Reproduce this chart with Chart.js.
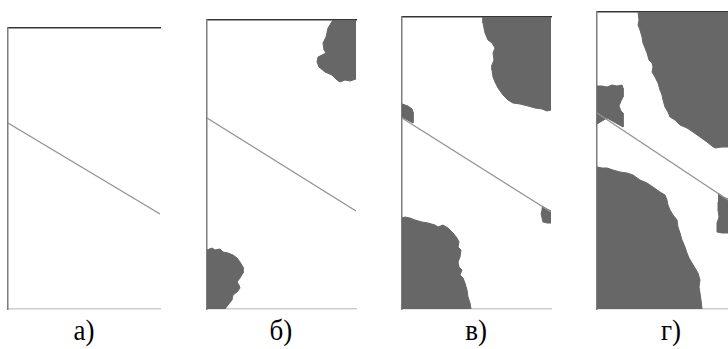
<!DOCTYPE html>
<html>
<head>
<meta charset="utf-8">
<script src="https://cdn.jsdelivr.net/npm/chart.js@4.4.1/dist/chart.umd.min.js"></script>
<style>
  html, body { margin: 0; padding: 0; background: #fff; }
  body { width: 728px; height: 349px; position: relative; overflow: hidden; }
  canvas { position: absolute; }
  .lbl {
    position: absolute; width: 100px; text-align: center;
    font-family: "Liberation Serif", "Times New Roman", serif;
    font-size: 30px; line-height: 34px; color: #000; top: 313px;
    transform: scaleX(0.9);
  }
</style>
</head>
<body>
<canvas id="chartA"></canvas>
<canvas id="chartB"></canvas>
<canvas id="chartC"></canvas>
<canvas id="chartD"></canvas>
<div id="labels"></div>
<script>
// подписи панелей
const panelLabels = ["а)", "б)", "в)", "г)"];

// размеры областей (в условных единицах = пикселях панели)
const extentA = [152, 281];
const extentB = [149, 289];
const extentC = [149, 292];
const extentD = [131, 297];

// наклонная линия на каждой панели
const lineA = [[0, 95], [152, 186]];
const lineB = [[0, 98], [149, 191]];
const lineC = [[0, 101], [149, 195]];
const lineD = [[0, 101], [131, 188]];

// панель б
const blobB1 = [[126, 0], [121, 8], [119, 17], [116, 23], [117, 30], [119, 33], [111, 37], [110, 42],
  [112, 47], [118, 52], [125, 55], [130, 60], [133, 62], [138, 60], [143, 61], [149, 59], [149, 0]];
const blobB2 = [[0, 230], [5, 228], [8, 230], [13, 229], [16, 232], [21, 233], [26, 235], [30, 238],
  [33, 242], [36, 247], [36, 253], [33, 258], [30, 262], [32, 265], [33, 268], [30, 272], [26, 275],
  [25, 280], [21, 285], [18, 289], [0, 289]];

// панель в
const blobC1 = [[81, 0], [81, 6], [83, 16], [86, 23], [90, 26], [93, 31], [91, 36], [92, 43], [90, 48],
  [90, 53], [91, 60], [93, 65], [96, 71], [101, 78], [106, 83], [111, 86], [118, 87], [126, 89],
  [133, 91], [140, 92], [145, 94], [149, 93], [149, 0]];
const blobC2 = [[0, 87], [6, 89], [10, 92], [11, 95], [11, 106], [0, 100]];
const blobC3 = [[140, 189], [145, 192], [149, 194], [149, 206], [145, 206], [141, 205], [140, 201], [139, 196]];
const blobC4 = [[0, 201], [3, 200], [8, 201], [13, 203], [20, 205], [26, 206], [33, 208], [36, 210],
  [41, 208], [46, 211], [51, 216], [55, 221], [57, 225], [56, 230], [59, 233], [58, 240], [56, 245],
  [57, 250], [60, 253], [58, 258], [61, 261], [63, 266], [65, 273], [66, 280], [68, 286], [69, 292], [0, 292]];

// панель г
const blobD1 = [[41, 0], [42, 8], [41, 13], [43, 18], [45, 25], [46, 31], [50, 41], [52, 48], [55, 51],
  [56, 55], [55, 60], [58, 65], [61, 71], [63, 78], [65, 83], [66, 88], [68, 95], [71, 100], [73, 105],
  [78, 108], [83, 113], [90, 116], [96, 120], [103, 125], [110, 130], [115, 134], [118, 136], [125, 135],
  [131, 135], [131, 0]];
const blobD2 = [[0, 74], [5, 74], [10, 75], [15, 73], [20, 74], [25, 73], [26, 76], [26, 85], [24, 89],
  [22, 94], [24, 99], [26, 101], [26, 115], [10, 106], [5, 109], [0, 112]];
const blobD3 = [[121, 181], [126, 185], [131, 187], [131, 221], [125, 221], [120, 220], [120, 211],
  [122, 205], [121, 198], [121, 190]];
const blobD4 = [[0, 155], [5, 156], [10, 156], [16, 158], [23, 160], [30, 161], [36, 163], [43, 168],
  [50, 171], [56, 175], [63, 180], [68, 183], [70, 188], [71, 193], [73, 198], [76, 203], [80, 208],
  [81, 215], [83, 221], [85, 228], [88, 235], [90, 241], [92, 246], [95, 251], [98, 256], [101, 261],
  [103, 268], [102, 275], [103, 281], [104, 288], [105, 297], [0, 297]];

const blobColor = "#676767";
const lineColor = "#949494";
const PAD = 3;

function toPoints(arr) {
    return arr.map(p => ({ x: p[0], y: p[1] }));
}

function hiddenAxis(extra) {
    return Object.assign({
        type: "linear",
        ticks: { display: false },
        grid: { display: false, drawTicks: false },
    }, extra);
}

function makePanel(id, box, extent, lineData, blobs) {
    const canvas = document.getElementById(id);
    canvas.width = box.w + 2 * PAD;
    canvas.height = box.h + 2 * PAD;
    canvas.style.left = (box.x - PAD) + "px";
    canvas.style.top = (box.y - PAD) + "px";

    const datasets = blobs.map(b => ({
        data: toPoints(b),
        showLine: true,
        fill: "shape",
        backgroundColor: blobColor,
        borderColor: blobColor,
        borderWidth: 1,
        pointRadius: 0,
        order: 2,
    }));
    datasets.push({
        data: toPoints(lineData),
        showLine: true,
        fill: false,
        borderColor: lineColor,
        borderWidth: 1.3,
        pointRadius: 0,
        order: 1,
    });

    return new Chart(canvas, {
        type: "scatter",
        data: { datasets: datasets },
        options: {
            responsive: false,
            animation: false,
            layout: { padding: PAD },
            plugins: {
                legend: { display: false },
                tooltip: { enabled: false },
            },
            scales: {
                x: hiddenAxis({ position: "bottom", min: 0, max: extent[0],
                    border: { color: "#cdcdcd", width: 1.5 } }),
                xTop: hiddenAxis({ position: "top", min: 0, max: extent[0],
                    border: { color: "#353535", width: 1.6 } }),
                y: hiddenAxis({ position: "left", min: 0, max: extent[1], reverse: true,
                    border: { color: "#7d7d7d", width: 1.5 } }),
            }
        }
    });
}

makePanel("chartA", { x: 8, y: 28, w: 152, h: 281 }, extentA, lineA, []);
makePanel("chartB", { x: 207, y: 20, w: 149, h: 289 }, extentB, lineB, [blobB1, blobB2]);
makePanel("chartC", { x: 402, y: 17, w: 149, h: 292 }, extentC, lineC, [blobC1, blobC2, blobC3, blobC4]);
makePanel("chartD", { x: 597, y: 12, w: 131, h: 297 }, extentD, lineD, [blobD1, blobD2, blobD3, blobD4]);

// подписи под панелями
const labelCenters = [84, 281, 476, 671];
const holder = document.getElementById("labels");
panelLabels.forEach((txt, i) => {
    const d = document.createElement("div");
    d.className = "lbl";
    d.textContent = txt;
    d.style.left = (labelCenters[i] - 50) + "px";
    holder.appendChild(d);
});
</script>
</body>
</html>
